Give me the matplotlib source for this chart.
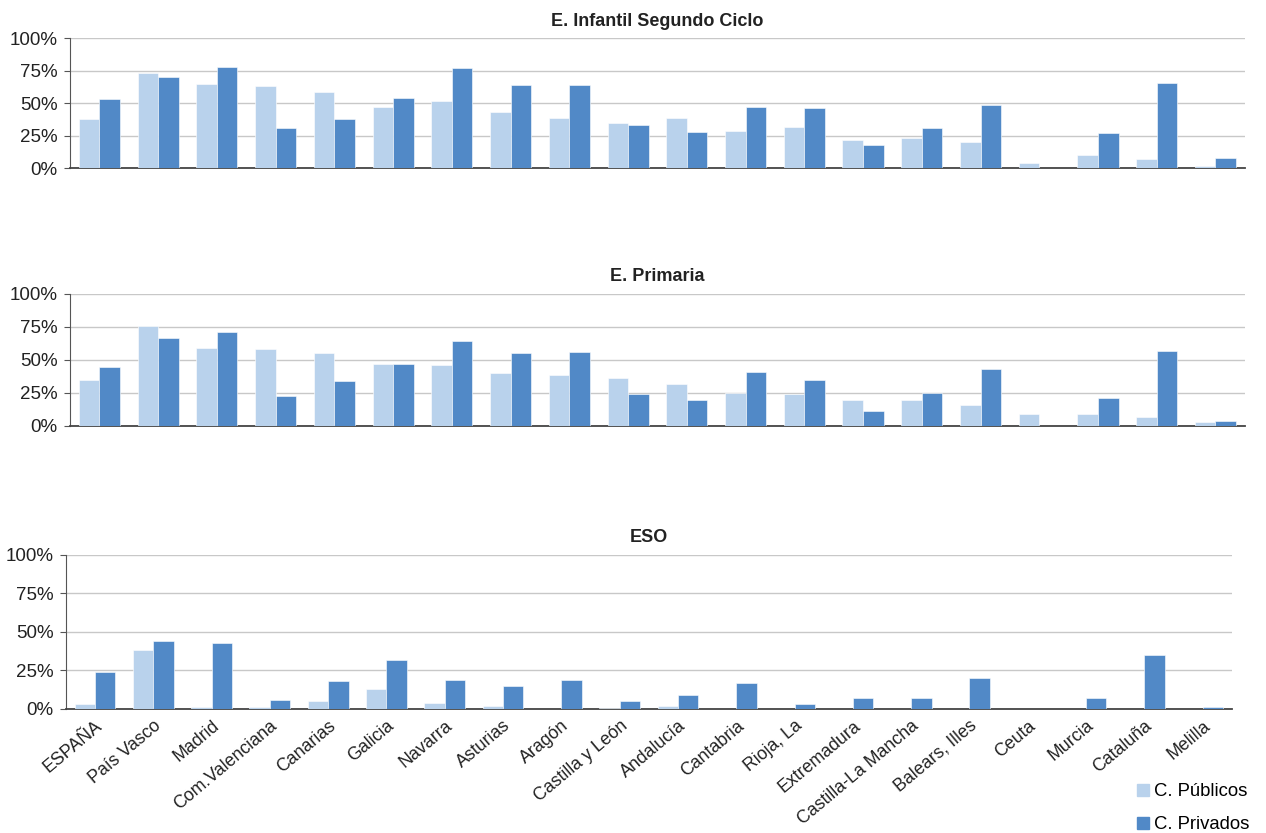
import matplotlib as mpl
import matplotlib.pyplot as plt
import numpy as np
from matplotlib.lines import Line2D

mpl.rcParams.update({
    "font.family": ["Liberation Sans", "DejaVu Sans"],
    "axes.unicode_minus": False,
})

regiones = ["ESPAÑA", "País Vasco", "Madrid", "Com.Valenciana", "Canarias", "Galicia",
            "Navarra", "Asturias", "Aragón", "Castilla y León", "Andalucía", "Cantabria",
            "Rioja, La", "Extremadura", "Castilla-La Mancha", "Balears, Illes", "Ceuta",
            "Murcia", "Cataluña", "Melilla"]

# E. Infantil Segundo Ciclo (%)
infantil_pub = [38, 73, 65, 63, 59, 47, 52, 43, 39, 35, 39, 29, 32, 22, 23, 20, 4, 10, 7, 2]
infantil_priv = [53, 70, 78, 31, 38, 54, 77, 64, 64, 33, 28, 47, 46, 18, 31, 49, 0, 27, 66, 8]

# E. Primaria (%)
primaria_pub = [35, 76, 59, 58, 55, 47, 46, 40, 39, 36, 32, 25, 24, 20, 20, 16, 9, 9, 7, 3]
primaria_priv = [45, 67, 71, 23, 34, 47, 64, 55, 56, 24, 20, 41, 35, 11, 25, 43, 0, 21, 57, 4]

# ESO (%)
eso_pub = [3, 38, 1, 1, 5, 13, 4, 2, 0, 0.3, 2, 0, 0, 0, 0, 0, 0, 0, 0, 0]
eso_priv = [24, 44, 43, 6, 18, 32, 19, 15, 19, 5, 9, 17, 3, 7, 7, 20, 0, 7, 35, 1]

C_PUB = "#B9D2EC"
C_PRIV = "#5189C7"

fig = plt.figure(figsize=(12.66, 8.33), dpi=100)

paneles = [
    ("E. Infantil Segundo Ciclo", infantil_pub, infantil_priv, [0.0553, 0.798, 0.928, 0.156]),
    ("E. Primaria", primaria_pub, primaria_priv, [0.0553, 0.4886, 0.928, 0.1585]),
    ("ESO", eso_pub, eso_priv, [0.052, 0.149, 0.921, 0.185]),
]

x = np.arange(len(regiones))
w = 0.35

for i, (titulo, pub, priv, pos) in enumerate(paneles):
    ax = fig.add_axes(pos)
    ax.bar(x - w / 2, pub, w, color=C_PUB, edgecolor="white", linewidth=0.4, zorder=3)
    ax.bar(x + w / 2, priv, w, color=C_PRIV, edgecolor="white", linewidth=0.4, zorder=3)
    ax.set_xlim(-0.5, len(regiones) - 0.5)
    ax.set_ylim(0, 100)
    ax.set_yticks([0, 25, 50, 75, 100])
    ax.set_yticklabels(["0%", "25%", "50%", "75%", "100%"], fontsize=13.5, color="#222222")
    ax.grid(axis="y", color="#C8C8C8", linewidth=1.0, zorder=0)
    ax.set_axisbelow(True)
    for s in ["top", "right"]:
        ax.spines[s].set_visible(False)
    ax.spines["left"].set_color("#555555")
    ax.spines["bottom"].set_color("#444444")
    ax.spines["bottom"].set_linewidth(1.3)
    ax.tick_params(axis="y", length=4, color="#555555", pad=5)
    ax.set_title(titulo, fontsize=13, fontweight="bold", color="#222222", pad=9)
    if i < 2:
        ax.set_xticks([])
    else:
        ax.set_xticks(x)
        ax.set_xticklabels(regiones, rotation=40, ha="right", rotation_mode="anchor",
                           fontsize=12.8, color="#222222")
        ax.tick_params(axis="x", length=0, pad=6)

handles = [
    Line2D([], [], marker="s", linestyle="none", markersize=9, color=C_PUB, label="C. Públicos"),
    Line2D([], [], marker="s", linestyle="none", markersize=9, color=C_PRIV, label="C. Privados"),
]
fig.legend(handles=handles, loc="lower right", bbox_to_anchor=(1.0, -0.02), frameon=False,
           fontsize=13.3, handletextpad=0.1, labelspacing=0.85, handlelength=1.0)

plt.savefig("out.png", dpi=100)
